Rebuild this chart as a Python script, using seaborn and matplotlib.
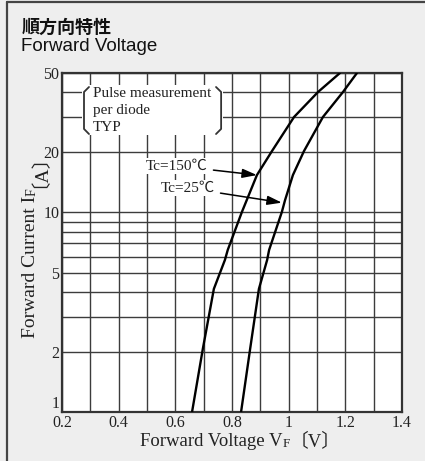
import numpy as np
import pandas as pd
import matplotlib
matplotlib.use('Agg')
import matplotlib.pyplot as plt
from matplotlib.lines import Line2D
from matplotlib.patches import Rectangle
from matplotlib.ticker import FixedLocator, NullFormatter
import seaborn as sns

# values
vf_150 = [0.659, 0.697, 0.736, 0.775, 0.785, 0.835, 0.888, 0.941, 1.019, 1.104, 1.181]
if_150 = [1.0, 2.07, 4.14, 5.78, 6.49, 10.06, 15.4, 20.3, 30.1, 40.2, 50.0]
vf_25 = [0.832, 0.864, 0.895, 0.924, 0.931, 0.976, 0.987, 1.015, 1.054, 1.121, 1.192, 1.241]
if_25 = [1.0, 2.07, 4.14, 5.78, 6.49, 10.06, 11.5, 15.4, 20.3, 30.1, 40.2, 50.0]

x_ticks = [0.2, 0.4, 0.6, 0.8, 1.0, 1.2, 1.4]
x_tick_labels = ['0.2', '0.4', '0.6', '0.8', '1', '1.2', '1.4']
x_minor = [0.3, 0.5, 0.7, 0.9, 1.1, 1.3]
y_ticks = [1, 2, 5, 10, 20, 50]
y_tick_labels = ['1', '2', '5', '10', '20', '50']
y_minor = [3, 4, 6, 7, 8, 9, 30, 40]

df = pd.concat([
    pd.DataFrame({'vf': vf_150, 'i': if_150, 'tc': 'Tc=150℃'}),
    pd.DataFrame({'vf': vf_25, 'i': if_25, 'tc': 'Tc=25℃'}),
])

sns.set_style('white')
serif = ['Liberation Serif', 'Noto Sans CJK JP']
bg = '#eeeeee'
ink = '#222222'

fig = plt.figure(figsize=(4.25, 4.61), dpi=100, facecolor=bg)
ax = fig.add_axes([62 / 425, 49 / 461, 340 / 425, 339 / 461])
ax.set_facecolor('white')

sns.lineplot(data=df, x='vf', y='i', hue='tc', palette=['black', 'black'],
             estimator=None, legend=False, linewidth=1.7, ax=ax, zorder=5)

ax.set_yscale('log')
ax.set_xlim(0.2, 1.4)
ax.set_ylim(1, 50)
ax.set_xticks(x_ticks)
ax.set_xticklabels(x_tick_labels)
ax.xaxis.set_minor_locator(FixedLocator(x_minor))
ax.set_yticks(y_ticks)
ax.set_yticklabels(y_tick_labels)
ax.yaxis.set_minor_locator(FixedLocator(y_minor))
ax.yaxis.set_minor_formatter(NullFormatter())
ax.tick_params(which='both', length=0, labelsize=11.5, colors=ink)
ax.tick_params(axis='x', pad=2)
ax.tick_params(axis='y', pad=2)
for lab in ax.get_xticklabels() + ax.get_yticklabels():
    lab.set_family(serif)
ax.get_yticklabels()[0].set_verticalalignment('bottom')
ax.grid(which='both', color='#3c3c3c', linewidth=1.0)
ax.set_axisbelow(True)
for s in ax.spines.values():
    s.set_color('#333333')
    s.set_linewidth(1.6)
ax.set_xlabel('')
ax.set_ylabel('')

# note box
ax.add_patch(Rectangle((0.059, 0.817), 0.415, 0.148, transform=ax.transAxes,
                       facecolor='white', edgecolor='none', zorder=3))
ax.text(0.0912, 0.958, 'Pulse measurement\nper diode\nTYP', transform=ax.transAxes,
        ha='left', va='top', fontsize=11, family=serif, linespacing=1.4,
        color=ink, zorder=4)
ax.plot([0.0794, 0.0647, 0.0647, 0.0794], [0.9587, 0.944, 0.835, 0.820],
        transform=ax.transAxes, color='#333333', lw=1.3, zorder=4)
ax.plot([0.453, 0.468, 0.468, 0.453], [0.9587, 0.944, 0.835, 0.820],
        transform=ax.transAxes, color='#333333', lw=1.3, zorder=4)

# curve labels
arrow = dict(arrowstyle='-|>,head_length=0.8,head_width=0.25', color='black', lw=1.1,
             shrinkA=3, shrinkB=0)
box = dict(facecolor='white', edgecolor='none', pad=1)
ax.annotate('Tc=150℃', xy=(0.888, 15.4), xytext=(0.715, 17.1), ha='right', va='center',
            fontsize=11, family=serif, bbox=box, arrowprops=arrow, zorder=6, color=ink)
ax.annotate('Tc=25℃', xy=(0.976, 11.2), xytext=(0.74, 13.25), ha='right', va='center',
            fontsize=11, family=serif, bbox=box, arrowprops=arrow, zorder=6, color=ink)

# axis labels with small-caps subscript letters
t1 = fig.text(140 / 425, 1 - 450 / 461, 'Forward Voltage V', ha='left', va='bottom',
              fontsize=13.5, family=serif, color=ink)
t2 = ax.annotate('F', xy=(1, 0), xycoords=t1, ha='left', va='bottom', fontsize=9.5,
                 family=serif, color=ink, annotation_clip=False)
ax.annotate('〔V〕', xy=(1, 0), xycoords=t2, ha='left', va='bottom', fontsize=13.5,
            family=serif, color=ink, annotation_clip=False)

u1 = fig.text(39 / 425, 1 - 338 / 461, 'Forward Current I', ha='right', va='bottom',
              rotation=90, fontsize=14, family=serif, color=ink)
u2 = ax.annotate('F', xy=(1, 1), xycoords=u1, ha='right', va='bottom', rotation=90,
                 fontsize=10, family=serif, color=ink, annotation_clip=False)
ax.annotate('〔A〕', xy=(1, 1), xycoords=u2, ha='right', va='bottom', rotation=90,
            fontsize=14, family=serif, color=ink, annotation_clip=False)

# title
fig.text(22 / 425, 1 - 33 / 461, '順方向特性', ha='left', va='baseline', fontsize=13,
         family=['Noto Sans CJK JP', 'DejaVu Sans'], fontweight='bold', color='#111111')
fig.text(21 / 425, 1 - 51 / 461, 'Forward Voltage', ha='left', va='baseline', fontsize=13.5,
         family=['Liberation Sans', 'DejaVu Sans'], color='#111111')

# outer frame (top and left edges)
fig.add_artist(Line2D([7 / 425, 7 / 425], [0, 1 - 2 / 461], transform=fig.transFigure,
                      color='#444444', lw=1.6))
fig.add_artist(Line2D([7 / 425, 1], [1 - 2 / 461, 1 - 2 / 461], transform=fig.transFigure,
                      color='#444444', lw=1.6))

fig.savefig('out.png', dpi=100, facecolor=bg)
